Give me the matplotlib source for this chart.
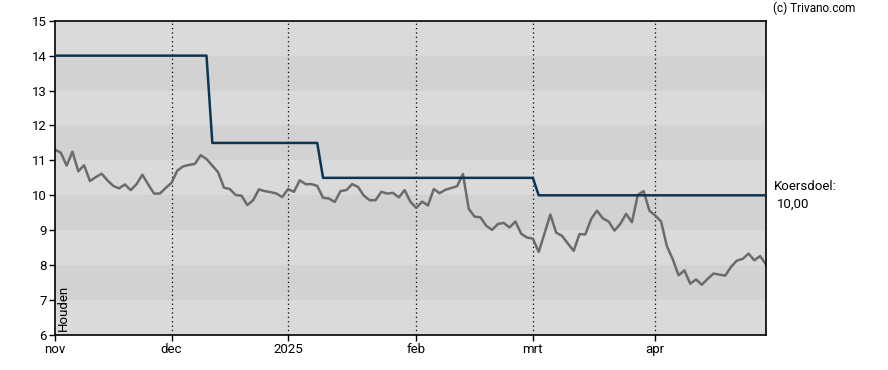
import numpy as np
import matplotlib
matplotlib.use("Agg")
import matplotlib.pyplot as plt

plt.rcParams['font.family'] = ['Roboto', 'DejaVu Sans']

# closing prices, one per trading day (nov 2024 - apr 2025)
prices = [
    11.31, 11.22, 10.85, 11.25, 10.69, 10.86, 10.41, 10.52, 10.62, 10.43,
    10.27, 10.20, 10.31, 10.15, 10.32, 10.59, 10.31, 10.05, 10.05, 10.21,
    10.36, 10.71, 10.83, 10.87, 10.90, 11.15, 11.04, 10.85, 10.66, 10.22,
    10.18, 10.01, 9.99, 9.72, 9.86, 10.17, 10.12, 10.09, 10.05, 9.95,
    10.18, 10.10, 10.43, 10.32, 10.32, 10.27, 9.93, 9.91, 9.81, 10.12,
    10.15, 10.32, 10.24, 9.99, 9.86, 9.86, 10.10, 10.05, 10.07, 9.94,
    10.15, 9.81, 9.64, 9.82, 9.71, 10.18, 10.06, 10.16, 10.21, 10.26,
    10.61, 9.61, 9.39, 9.37, 9.13, 9.01, 9.18, 9.21, 9.08, 9.25,
    8.90, 8.79, 8.76, 8.38, 8.91, 9.45, 8.93, 8.84, 8.62, 8.41,
    8.89, 8.88, 9.32, 9.56, 9.34, 9.25, 8.99, 9.18, 9.47, 9.23,
    10.01, 10.12, 9.56, 9.42, 9.25, 8.54, 8.17, 7.71, 7.85, 7.47,
    7.59, 7.44, 7.61, 7.76, 7.73, 7.70, 7.95, 8.13, 8.18, 8.33,
    8.14, 8.26, 8.02,
]

# price target (koersdoel) changes: first trading-day index of each level
target_start = [0, 27, 46, 83]
target_level = [14.0, 11.5, 10.5, 10.0]

month_pos = [0, 20, 40, 62, 82, 103]
month_labels = ['nov', 'dec', '2025', 'feb', 'mrt', 'apr']

x = np.arange(len(prices))
target = np.zeros(len(prices))
for start, level in zip(target_start, target_level):
    target[start:] = level

fig = plt.figure(figsize=(8.88, 3.70), dpi=100)
ax = fig.add_axes([0.0619, 0.0946, 0.8007, 0.8494])

# alternating horizontal bands
for lo in range(6, 15):
    col = '#dadada' if lo % 2 == 0 else '#d2d2d2'
    ax.axhspan(lo, lo + 1, color=col, zorder=0, lw=0)

for p in month_pos[1:]:
    ax.axvline(p, color='black', ls=(0, (1, 2.5)), lw=0.9, zorder=1)

ax.plot(x, prices, color='#6b6b6b', lw=1.8, zorder=2)
ax.plot(x, target, color='#0b3552', lw=1.8, zorder=3)

ax.set_xlim(0, len(prices) - 1)
ax.set_ylim(6, 15)
ax.set_yticks(range(6, 16))
ax.set_xticks(month_pos)
ax.set_xticklabels(month_labels)
ax.tick_params(labelsize=9.5, length=4, width=1, colors='black', pad=2)
for s in ax.spines.values():
    s.set_linewidth(1.2)
    s.set_color('black')

ax.text(0.003, 0.012, 'Houden', rotation=90, transform=ax.transAxes,
        fontsize=9.5, ha='left', va='bottom')

fig.text(0.872, 0.497, 'Koersdoel:', fontsize=9.5, ha='left', va='center')
fig.text(0.875, 0.447, '10,00', fontsize=9.5, ha='left', va='center')
fig.text(0.870, 0.977, '(c) Trivano.com', fontsize=8.5, ha='left', va='center')

fig.savefig('out.png', dpi=100)
